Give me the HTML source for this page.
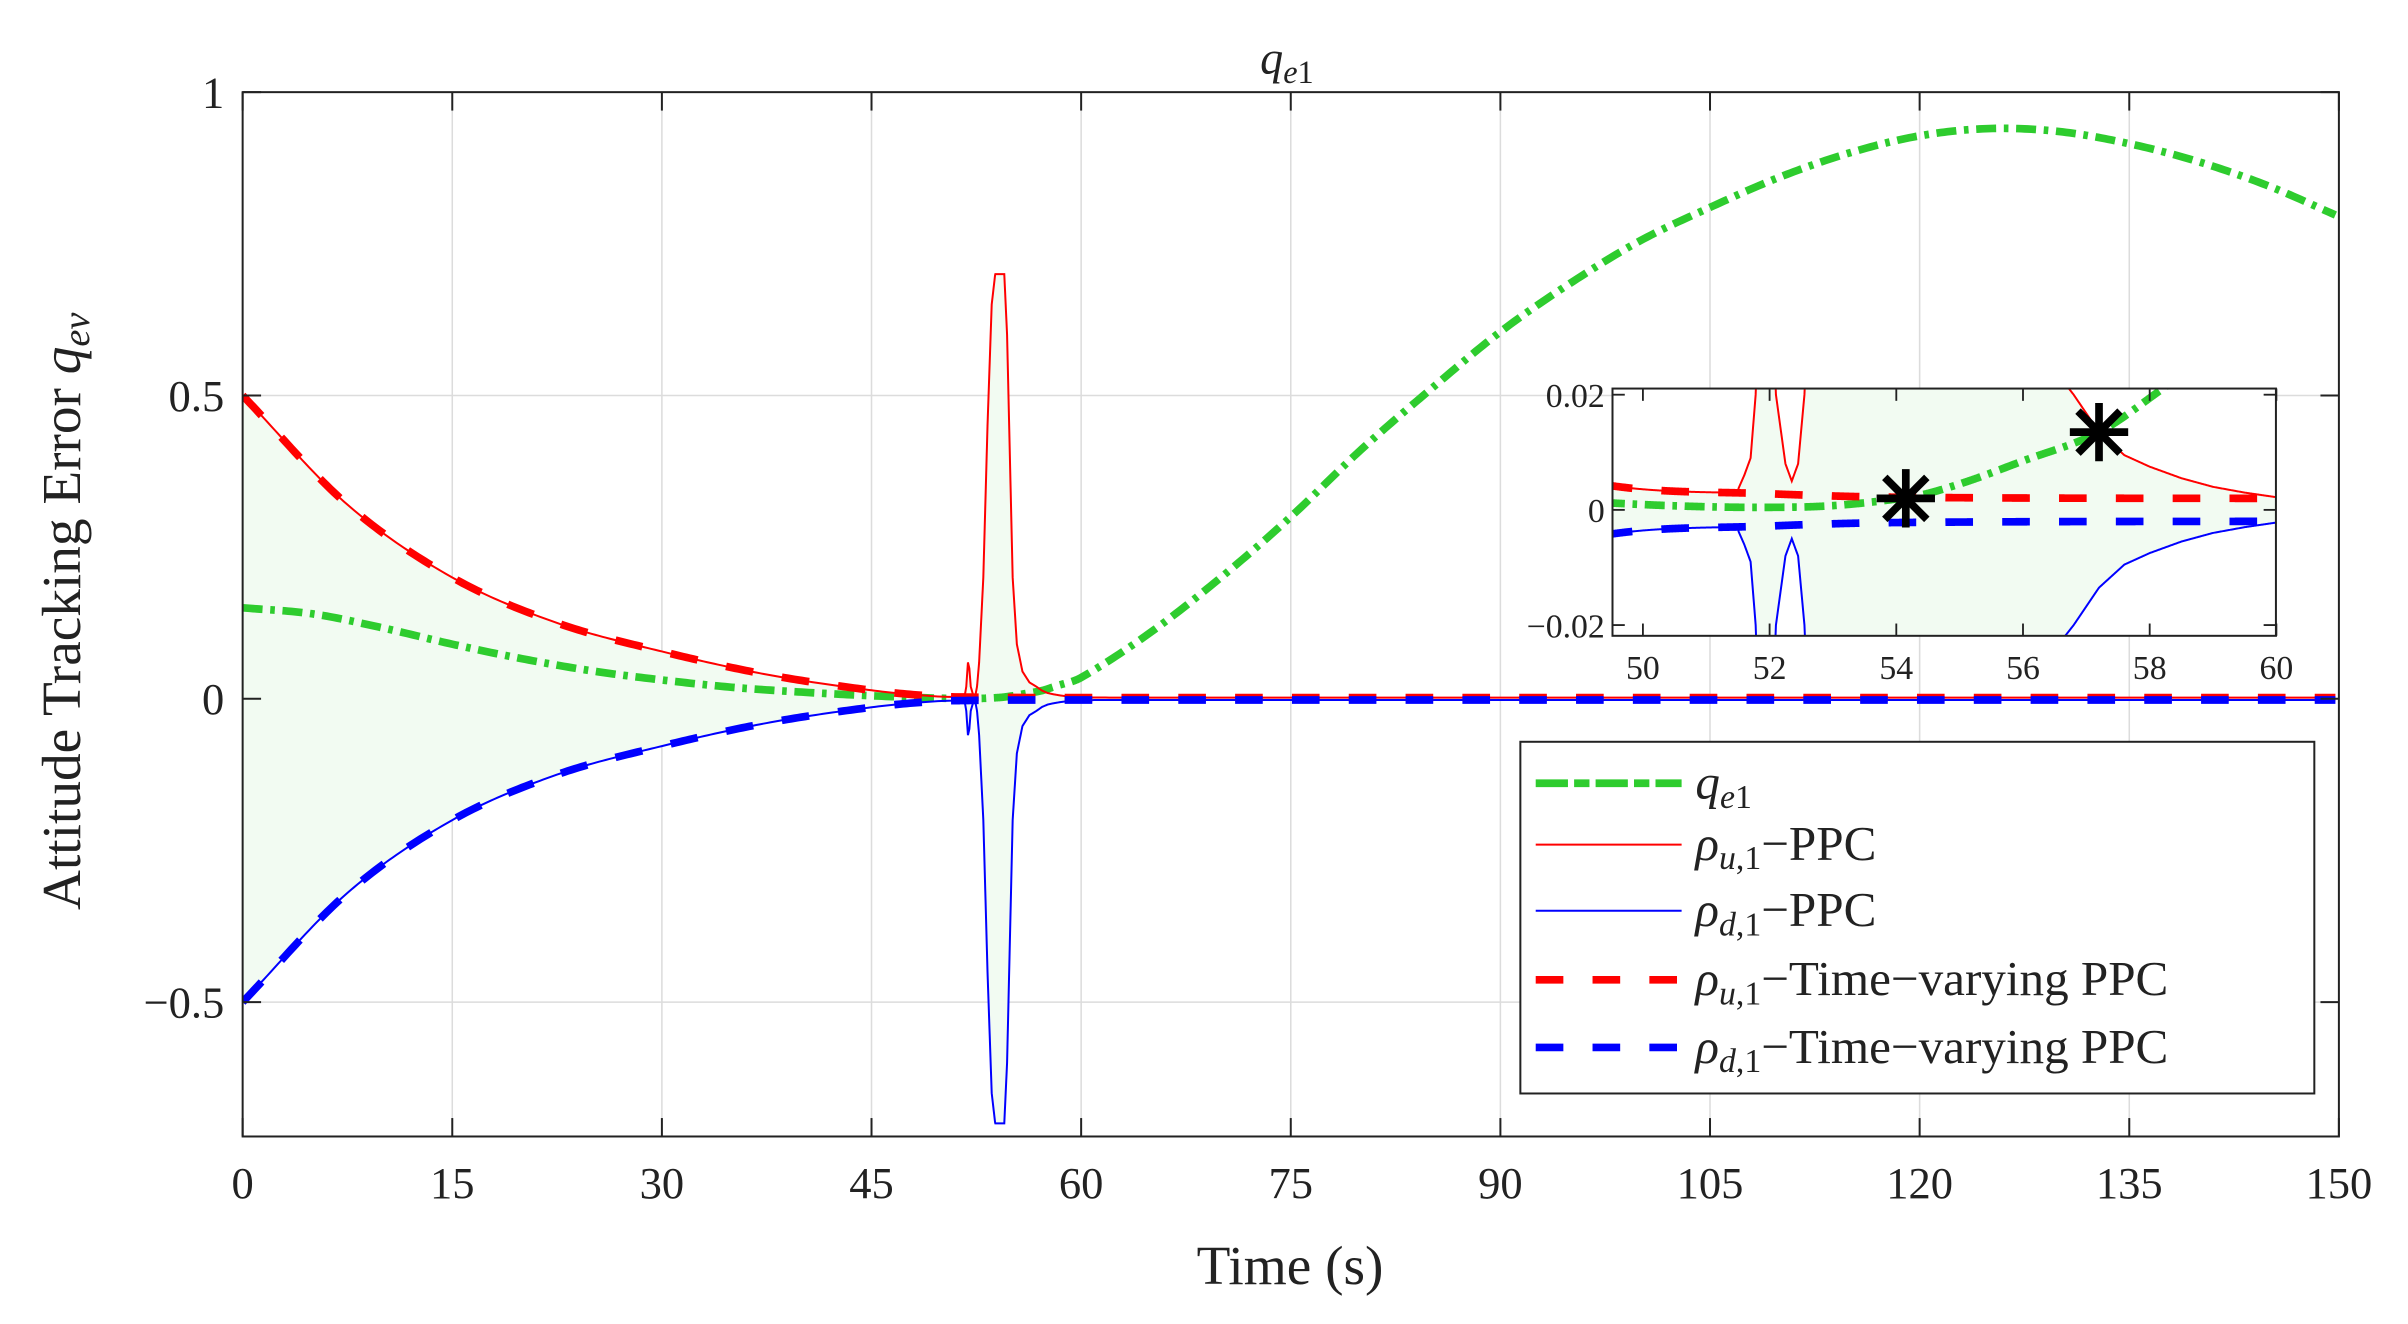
<!DOCTYPE html>
<html><head><meta charset="utf-8">
<style>
html,body{margin:0;padding:0;background:#fff;width:2408px;height:1324px;overflow:hidden;}
svg{display:block;position:absolute;left:0;top:0;}
text{font-family:"Liberation Serif",serif;fill:#222;}
</style></head>
<body>
<svg id="s" width="2408" height="1324" viewBox="0 0 1568 862.1" preserveAspectRatio="none" xmlns="http://www.w3.org/2000/svg">
<defs>
<clipPath id="cm"><rect x="158" y="60" width="1365" height="680"/></clipPath>
<clipPath id="ci"><rect x="1050" y="253" width="432" height="161"/></clipPath>
</defs>
<rect x="0" y="0" width="1568" height="862.1" fill="#fff"/>
<g id="grid" stroke="#dcdcdc" stroke-width="1"></g>
<g clip-path="url(#cm)" id="main"></g>
<rect x="158" y="60" width="1365" height="680" fill="none" stroke="#222" stroke-width="1.3"/>
<g id="ticks" stroke="#222" stroke-width="1.3"></g>
<g id="labels" font-size="29" text-anchor="middle"></g>
<text x="838" y="48" font-size="30" text-anchor="middle"><tspan font-style="italic">q</tspan><tspan font-size="21" dy="6"><tspan font-style="italic">e</tspan>1</tspan></text>
<text x="840" y="836" font-size="36" text-anchor="middle">Time (s)</text>
<text transform="translate(52,398) rotate(-90)" font-size="36" text-anchor="middle">Attitude Tracking Error <tspan font-style="italic">q</tspan><tspan font-size="25" dy="6" font-style="italic">ev</tspan></text>
<rect x="1050" y="253" width="432" height="161" fill="#fff"/>
<g clip-path="url(#ci)" id="inset"></g>
<rect x="1050" y="253" width="432" height="161" fill="none" stroke="#222" stroke-width="1.3"/>
<g id="iticks" stroke="#222" stroke-width="1.2"></g>
<g id="ilabels" font-size="22"></g>
<rect x="990" y="483" width="517" height="229" fill="#fff" stroke="#222" stroke-width="1.3"/>
<g id="legend"></g>
</svg>
<script>
const NS="http://www.w3.org/2000/svg";
function el(p,tag,attrs,txt){const e=document.createElementNS(NS,tag);for(const k in attrs)e.setAttribute(k,attrs[k]);if(txt!==undefined)e.textContent=txt;p.appendChild(e);return e;}
const X=t=>158+t*9.1, Y=q=>455-q*395;
const XI=t=>1050+(t-49.52)*41.25, YI=q=>332-q*3750;
function lin(pts,t){if(t<=pts[0][0])return pts[0][1];for(let i=1;i<pts.length;i++){if(t<=pts[i][0]){const a=pts[i-1],b=pts[i];return a[1]+(b[1]-a[1])*(t-a[0])/(b[0]-a[0]);}}return pts[pts.length-1][1];}
function cr(pts,t){if(t<=pts[0][0])return pts[0][1];const n=pts.length;for(let i=1;i<n;i++){if(t<=pts[i][0]){const p1=pts[i-1],p2=pts[i];const p0=pts[Math.max(0,i-2)],p3=pts[Math.min(n-1,i+1)];const h=p2[0]-p1[0];const u=(t-p1[0])/h;
const m1=(p2[1]-p0[1])/(p2[0]-p0[0])*h, m2=(p3[1]-p1[1])/(p3[0]-p1[0])*h;
const u2=u*u,u3=u2*u;return (2*u3-3*u2+1)*p1[1]+(u3-2*u2+u)*m1+(-2*u3+3*u2)*p2[1]+(u3-u2)*m2;}}return pts[n-1][1];}
const rTV=[[0,.5],[7.5,.32],[15,.2],[22.5,.125],[30,.078],[37.5,.04],[45,.014],[49.5,.0042],[52,.0028],[54,.0022],[60,.002],[150,.002]];
const green=[[0,.15],[5,.14],[10,.117],[15,.09],[20,.066],[25,.046],[30,.031],[35,.019],[40,.011],[45,.005],[49.5,.0012],[52.5,.0005],[54.2,.0022],[55,.0045],[56,.0085],[57.2,.0135],[58.2,.021],[60,.035],[65,.11],[70,.2],[75,.3],[80,.41],[85,.51],[90,.605],[95,.685],[100,.755],[105,.81],[110,.86],[115,.9],[120,.928],[125,.94],[130,.935],[135,.915],[140,.885],[145,.845],[150,.795]];
const rPPCspike=[[51.5,.0035],[51.6,.006],[51.7,.009],[51.78,.02],[51.9,.06],[52.0,.05],[52.1,.02],[52.25,.008],[52.35,.005],[52.45,.008],[52.55,.02],[52.7,.06],[53.0,.2],[53.3,.45],[53.6,.65],[53.85,.70],[54.5,.70],[54.7,.6],[54.9,.4],[55.1,.2],[55.4,.09],[55.8,.045],[56.3,.027],[56.8,.02],[57.2,.0135],[57.6,.0095],[58,.0075],[58.5,.0055],[59,.004],[59.5,.003],[60,.0022],[62,.002],[150,.002]];
function rPPC(t){return t<51.5?cr(rTV,t):lin(rPPCspike,t);}
const fTV=t=>cr(rTV,t), fG=t=>cr(green,t);
const grid=document.getElementById("grid");
for(let t=15;t<150;t+=15)el(grid,"line",{x1:X(t),y1:60,x2:X(t),y2:740});
[-0.5,0,0.5].forEach(q=>el(grid,"line",{x1:158,y1:Y(q),x2:1523,y2:Y(q)}));
function drawSet(g,pts,XX,YY){
 const P=(f,s)=>pts.map((t,i)=>(i?"L":"M")+XX(t).toFixed(2)+" "+YY(s*f(t)).toFixed(2)).join("");
 let fd=P(rPPC,1);for(let i=pts.length-1;i>=0;i--)fd+="L"+XX(pts[i]).toFixed(2)+" "+YY(-rPPC(pts[i])).toFixed(2);
 el(g,"path",{d:fd+"Z",fill:"#f2fbf2"});
 el(g,"path",{d:P(fG,1),fill:"none",stroke:"#2ecc2e","stroke-width":5,"stroke-dasharray":"13 5 3 5"});
 el(g,"path",{d:P(rPPC,1),fill:"none",stroke:"#ff0000","stroke-width":1.3});
 el(g,"path",{d:P(rPPC,-1),fill:"none",stroke:"#0000ff","stroke-width":1.3});
 el(g,"path",{d:P(fTV,1),fill:"none",stroke:"#ff0000","stroke-width":5,"stroke-dasharray":"18 19"});
 el(g,"path",{d:P(fTV,-1),fill:"none",stroke:"#0000ff","stroke-width":5,"stroke-dasharray":"18 19"});
}
const main=document.getElementById("main");
(function(){const pts=[];for(let t=0;t<=150;t+=(t>=51&&t<=61)?0.02:0.25)pts.push(t);drawSet(main,pts,X,Y);})();
const tk=document.getElementById("ticks"), lb=document.getElementById("labels");
for(let t=0;t<=150;t+=15){el(tk,"line",{x1:X(t),y1:740,x2:X(t),y2:728});el(tk,"line",{x1:X(t),y1:60,x2:X(t),y2:72});el(lb,"text",{x:X(t),y:780},String(t));}
[[-0.5,"\u22120.5"],[0,"0"],[0.5,"0.5"],[1,"1"]].forEach(([q,s])=>{el(tk,"line",{x1:158,y1:Y(q),x2:170,y2:Y(q)});el(tk,"line",{x1:1523,y1:Y(q),x2:1511,y2:Y(q)});el(lb,"text",{x:146,y:Y(q)+10,"text-anchor":"end"},s);});
const ins=document.getElementById("inset");
(function(){
 const pts=[];for(let t=49.4;t<=60.1;t+=0.01)pts.push(t);
 drawSet(ins,pts,XI,YI);
 [[54.15,.002],[57.2,.0135]].forEach(([t,q])=>{const cx=XI(t),cy=YI(q),r=19;
  const g=el(ins,"g",{stroke:"#000","stroke-width":5});
  el(g,"line",{x1:cx,y1:cy-r,x2:cx,y2:cy+r});el(g,"line",{x1:cx-r,y1:cy,x2:cx+r,y2:cy});
  const d=r*0.72;el(g,"line",{x1:cx-d,y1:cy-d,x2:cx+d,y2:cy+d});el(g,"line",{x1:cx-d,y1:cy+d,x2:cx+d,y2:cy-d});});
})();
const itk=document.getElementById("iticks"), ilb=document.getElementById("ilabels");
for(let t=50;t<=60;t+=2){el(itk,"line",{x1:XI(t),y1:414,x2:XI(t),y2:406});el(itk,"line",{x1:XI(t),y1:253,x2:XI(t),y2:261});el(ilb,"text",{x:XI(t),y:442,"text-anchor":"middle"},String(t));}
[[-0.02,"\u22120.02"],[0,"0"],[0.02,"0.02"]].forEach(([q,s])=>{el(itk,"line",{x1:1050,y1:YI(q),x2:1058,y2:YI(q)});el(itk,"line",{x1:1482,y1:YI(q),x2:1474,y2:YI(q)});el(ilb,"text",{x:1045,y:YI(q)+8,"text-anchor":"end"},s);});
const lg=document.getElementById("legend");
const rows=[510,550,593,638,682];
el(lg,"line",{x1:1000,y1:rows[0],x2:1095,y2:rows[0],stroke:"#2ecc2e","stroke-width":5,"stroke-dasharray":"21 4 10 4"});
el(lg,"line",{x1:1000,y1:rows[1],x2:1095,y2:rows[1],stroke:"#ff0000","stroke-width":1.3});
el(lg,"line",{x1:1000,y1:rows[2],x2:1095,y2:rows[2],stroke:"#0000ff","stroke-width":1.3});
el(lg,"line",{x1:1000,y1:rows[3],x2:1095,y2:rows[3],stroke:"#ff0000","stroke-width":5,"stroke-dasharray":"18 19"});
el(lg,"line",{x1:1000,y1:rows[4],x2:1095,y2:rows[4],stroke:"#0000ff","stroke-width":5,"stroke-dasharray":"18 19"});
function legText(y,html){const t=el(lg,"text",{x:1104,y:y+10,"font-size":32});t.innerHTML=html;}
legText(rows[0],'<tspan font-style="italic">q</tspan><tspan font-size="22" dy="6"><tspan font-style="italic">e</tspan>1</tspan>');
legText(rows[1],'<tspan font-style="italic">ρ</tspan><tspan font-size="22" dy="6"><tspan font-style="italic">u</tspan>,1</tspan><tspan dy="-6">−PPC</tspan>');
legText(rows[2],'<tspan font-style="italic">ρ</tspan><tspan font-size="22" dy="6"><tspan font-style="italic">d</tspan>,1</tspan><tspan dy="-6">−PPC</tspan>');
legText(rows[3],'<tspan font-style="italic">ρ</tspan><tspan font-size="22" dy="6"><tspan font-style="italic">u</tspan>,1</tspan><tspan dy="-6">−Time−varying PPC</tspan>');
legText(rows[4],'<tspan font-style="italic">ρ</tspan><tspan font-size="22" dy="6"><tspan font-style="italic">d</tspan>,1</tspan><tspan dy="-6">−Time−varying PPC</tspan>');
</script>
</body></html>
